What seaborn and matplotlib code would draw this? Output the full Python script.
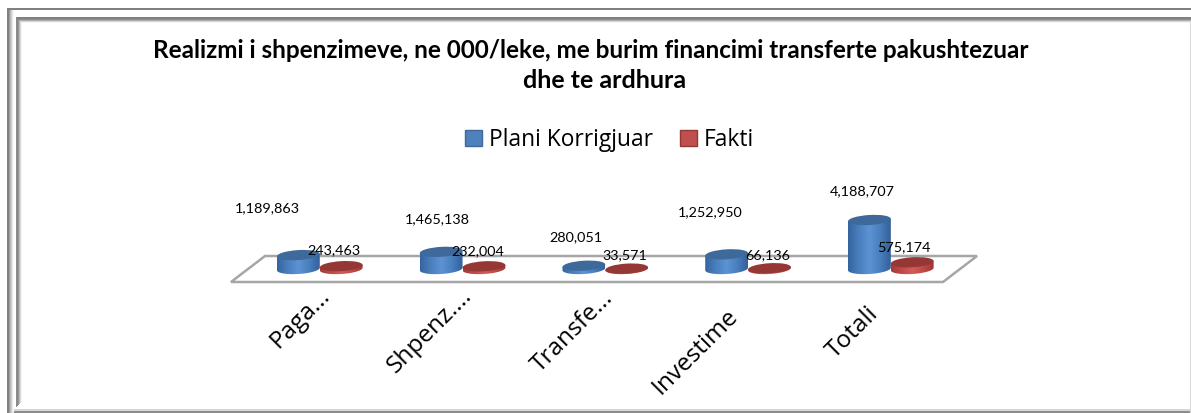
import numpy as np
import pandas as pd
import seaborn as sns
import matplotlib
matplotlib.use("Agg")
import matplotlib.pyplot as plt
from matplotlib.colors import LinearSegmentedColormap
from matplotlib.patches import Ellipse, Polygon, Rectangle, Patch
from matplotlib.transforms import Affine2D

categories = ["Paga...", "Shpenz....", "Transfe...", "Investime", "Totali"]
plani = [1189863, 1465138, 280051, 1252950, 4188707]
fakti = [243463, 232004, 33571, 66136, 575174]
series = ["Plani Korrigjuar", "Fakti"]
title_lines = ["Realizmi i shpenzimeve, ne 000/leke, me burim financimi transferte pakushtezuar",
               "dhe te ardhura"]

W, H = 1191, 413
sns.set_theme(style="white")
plt.rcParams["font.family"] = ["Lato", "DejaVu Sans"]
fig = plt.figure(figsize=(W / 100, H / 100), dpi=100, facecolor="white")
px = Affine2D().scale(1, -1).translate(0, H)

# axes placed so that the baseline sits at y=269 px, 49 px = 4,188,707
L, R, BASE, TOP = 248.4, 962.2, 269, 190
ax = fig.add_axes([L / W, 1 - BASE / H, (R - L) / W, (BASE - TOP) / H])
ax.patch.set_alpha(0)
df = pd.DataFrame({
    "cat": categories * 2,
    "serie": [series[0]] * 5 + [series[1]] * 5,
    "val": plani + fakti,
})
blue, red = "#4f81bd", "#c0504d"
sns.barplot(data=df, x="cat", y="val", hue="serie", palette=[blue, red],
            width=0.6, gap=0, legend=False, ax=ax, zorder=3)
ax.set_xlim(-0.5, 4.5)
ymax = 4188707 * (BASE - TOP) / 49
ax.set_ylim(0, ymax)
ax.set_xlabel("")
ax.set_ylabel("")
ax.set_yticks([])
sns.despine(ax=ax, left=True, bottom=True)
ax.tick_params(axis="x", length=0, pad=0)
ax.set_xticks(range(5))
ax.set_xticklabels(categories, rotation=45, ha="right", rotation_mode="anchor",
                   fontsize=17.6, color="black", family=["Open Sans", "DejaVu Sans"])
tick_shift = [(-2, -15), (-3, -15), (-4, -17), (-22, -35), (-24, -33)]
for lab, (dx, dy) in zip(ax.get_xticklabels(), tick_shift):
    lab.set_transform(lab.get_transform() + Affine2D().translate(dx, dy))

# floor
ax.add_artist(Polygon([(265, 256), (977, 256), (943, 282), (231, 282)], closed=True,
                      facecolor="white", edgecolor="#a6a6a6", linewidth=1.8,
                      transform=px, zorder=1, clip_on=False))

cm_b = LinearSegmentedColormap.from_list("b", ["#35659f", "#4a7fbe", "#5d93d4", "#4a7fbe", "#33609a"])
cm_r = LinearSegmentedColormap.from_list("r", ["#a33b38", "#c04a47", "#d25c58", "#bf4a47", "#9f3835"])
grad = np.linspace(0, 1, 64).reshape(1, -1)
EH = 10.0
ANG = 3.5

def cylinder(rect, cmap, top_col, z):
    rect.set_visible(False)
    x0, x1 = rect.get_x(), rect.get_x() + rect.get_width()
    h = rect.get_height()
    (dx0, dy0), (dx1, dy1) = ax.transData.transform([(x0, 0), (x1, h)])
    cx = (dx0 + dx1) / 2
    a = (dx1 - dx0) / 2
    b = EH / 2
    t = np.linspace(np.pi, 2 * np.pi, 40)
    lower = np.c_[cx + a * np.cos(t), dy0 + b * np.sin(t) + 0.06 * a * np.cos(t)]
    upper = [(dx1, dy1 + 0.06 * a), (dx0, dy1 - 0.06 * a)]
    body = Polygon(np.vstack([lower, upper]), closed=True,
                   facecolor="none", edgecolor="none", transform=Affine2D())
    ax.add_artist(body)
    body.set_clip_on(False)
    im = ax.imshow(grad, cmap=cmap, aspect="auto", zorder=z, interpolation="bilinear",
                   extent=(x0, x1, -ymax * 0.3, ymax * 1.0))
    im.set_clip_path(body)
    im.set_clip_box(fig.bbox)
    top = Ellipse((cx, dy1), 2 * a, EH, angle=ANG, facecolor=top_col, edgecolor="none",
                  transform=Affine2D(), zorder=z + 0.1, clip_on=False)
    ax.add_artist(top)

for rect in ax.containers[0]:
    cylinder(rect, cm_b, "#3d6a9b", 3)
for rect in ax.containers[1]:
    cylinder(rect, cm_r, "#953735", 4)
ax.set_xlim(-0.5, 4.5)
ax.set_ylim(0, ymax)

# data labels
off_b = [(-31, 47), (-4, 33), (-8, 29), (-16, 42), (-7, 29)]
off_r = [(-7, 16), (-6, 15), (-2, 13.6), (-2, 13), (-8, 15)]
fmt = "{:,}".format
for cont, vals, offs in ((ax.containers[0], plani, off_b), (ax.containers[1], fakti, off_r)):
    for rect, v, (ox, oy) in zip(cont, vals, offs):
        ax.annotate(fmt(v), (rect.get_x() + rect.get_width() / 2, v),
                    xytext=(ox * 0.72, oy * 0.72), textcoords="offset points",
                    ha="center", va="center", fontsize=10.4, color="black",
                    zorder=6, annotation_clip=False)

fig.text(591 / W, 1 - 50 / H, title_lines[0], ha="center", va="center", fontsize=17.5,
         fontweight="bold", color="black")
fig.text(604.5 / W, 1 - 81 / H, title_lines[1], ha="center", va="center", fontsize=18,
         fontweight="bold", color="black")

handles = [Patch(facecolor=blue, edgecolor="#3d6a9b"), Patch(facecolor=red, edgecolor="#953735")]
fig.legend(handles, series, loc="center", bbox_to_anchor=(609.5 / W, 1 - 140 / H), ncols=2,
           frameon=False, handlelength=0.75, handleheight=0.65,
           handletextpad=0.28, columnspacing=1.2, labelcolor="black",
           prop={"family": ["Open Sans", "DejaVu Sans"], "size": 16.4})

# bevelled frame
def frame(*a, **k):
    fig.add_artist(Rectangle(*a, transform=px, edgecolor="none", **k))
def grey(g):
    return (g, g, g)
for x, g in zip(range(9, 14), [0.62, 0.72, 0.82, 0.91, 0.97]):
    frame((x, 9), 1, H - 9, facecolor=grey(g))
for x, g in zip(range(16, 22), [0.55, 0.52, 0.6, 0.72, 0.86, 0.96]):
    frame((x, 18), 1, 389 - (x - 16), facecolor=grey(g))
for y, g in zip(range(17, 23), [0.5, 0.5, 0.56, 0.68, 0.84, 0.96]):
    frame((16 + (y - 17), y), W - 16 - (y - 17), 1, facecolor=grey(g))
frame((7, 8), W - 7, 1.6, facecolor="#808080")
frame((7, 8), 2, H - 8, facecolor="#808080")
frame((14, 409), W - 14, 1.5, facecolor="#d6d6d6")
frame((14, 410.5), W - 14, 2.5, facecolor="#8c8c8c")
frame((W - 1.5, 22), 1.5, H - 22, facecolor="#d8d8d8")

fig.savefig("out.png", dpi=100, facecolor="white")
